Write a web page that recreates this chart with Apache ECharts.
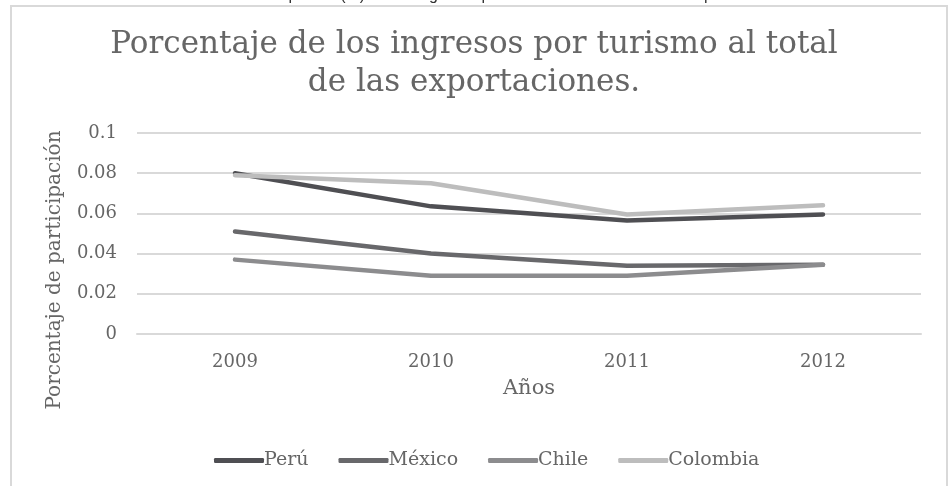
<!DOCTYPE html>
<html>
<head>
<meta charset="utf-8">
<script src="https://cdn.jsdelivr.net/npm/echarts@6/dist/echarts.min.js"></script>
<style>
  html, body { margin: 0; padding: 0; background: #fff; }
  #chart { width: 948px; height: 486px; }
</style>
</head>
<body>
<div id="chart"></div>
<script>
// datos
var years = ['2009', '2010', '2011', '2012'];
var peru = [0.080, 0.0635, 0.0565, 0.0595];
var mexico = [0.051, 0.040, 0.034, 0.0345];
var chile = [0.037, 0.029, 0.029, 0.0345];
var colombia = [0.079, 0.075, 0.0595, 0.064];
var yTicks = [0, 0.02, 0.04, 0.06, 0.08, 0.1];

var serif = '"DejaVu Serif", "Liberation Serif", serif';

var myChart = echarts.init(document.getElementById('chart'));

var mkLine = function(name, data, color){
    return {
        name: name,
        type: 'line',
        data: data,
        symbol: 'none',
        lineStyle: { color: color, width: 4.5, cap: 'round', join: 'round' },
        itemStyle: { color: color },
        z: 3
    };
};

var option = {
    backgroundColor: '#fff',
    animation: false,
    title: {
        text: 'Porcentaje de los ingresos por turismo al total\nde las exportaciones.',
        left: 'center',
        top: 21,
        textStyle: { fontFamily: serif, fontWeight: 'normal', fontSize: 31, color: '#666', lineHeight: 38 }
    },
    legend: {
        bottom: 11,
        left: 209,
        itemWidth: 50,
        itemHeight: 5,
        itemGap: 30,
        icon: 'roundRect',
        textStyle: { fontFamily: serif, fontSize: 19, color: '#666', padding: [0, 0, 0, -5] },
        data: ['Perú', 'México', 'Chile', 'Colombia']
    },
    grid: { left: 137, right: 27, top: 133, bottom: 152 },
    xAxis: {
        type: 'category',
        data: years,
        boundaryGap: true,
        name: 'Años',
        nameLocation: 'middle',
        nameGap: 44,
        nameTextStyle: { fontFamily: serif, fontSize: 21, color: '#666' },
        axisLine: { show: true, lineStyle: { color: '#d9d9d9', width: 2 } },
        axisTick: { show: false },
        axisLabel: { fontFamily: serif, fontSize: 18, color: '#666', margin: 19 }
    },
    yAxis: {
        type: 'value',
        min: yTicks[0],
        max: yTicks[yTicks.length - 1],
        interval: 0.02,
        axisLine: { show: false },
        axisTick: { show: false },
        splitLine: { lineStyle: { color: '#d9d9d9', width: 2 } },
        axisLabel: {
            fontFamily: serif, fontSize: 18, color: '#666', margin: 20,
            formatter: function(v){ return String(parseFloat(v.toFixed(2))); }
        }
    },
    graphic: [
        {
            type: 'rect',
            shape: { x: 11, y: 6, width: 936, height: 490 },
            style: { fill: 'none', stroke: '#d9d9d9', lineWidth: 2 },
            silent: true
        },
        {
            type: 'text',
            left: 'center',
            top: -12,
            style: {
                text: 'Gráfico 30: Participación (%) de los ingresos por turismo en el total de las exportaciones',
                font: '16px "Liberation Sans", Arial, sans-serif',
                fill: '#333'
            },
            silent: true
        },
        {
            // titulo del eje y
            type: 'text',
            x: 55,
            y: 270,
            rotation: Math.PI / 2,
            style: {
                text: 'Porcentaje de participación',
                font: '20px "DejaVu Serif", serif',
                fill: '#666',
                align: 'center',
                verticalAlign: 'middle'
            },
            silent: true
        }
    ],
    series: [
        mkLine('Perú', peru, '#4f4f53'),
        mkLine('México', mexico, '#68686b'),
        mkLine('Chile', chile, '#8c8c8e'),
        mkLine('Colombia', colombia, '#bdbdbd')
    ]
};

myChart.setOption(option);
</script>
</body>
</html>
